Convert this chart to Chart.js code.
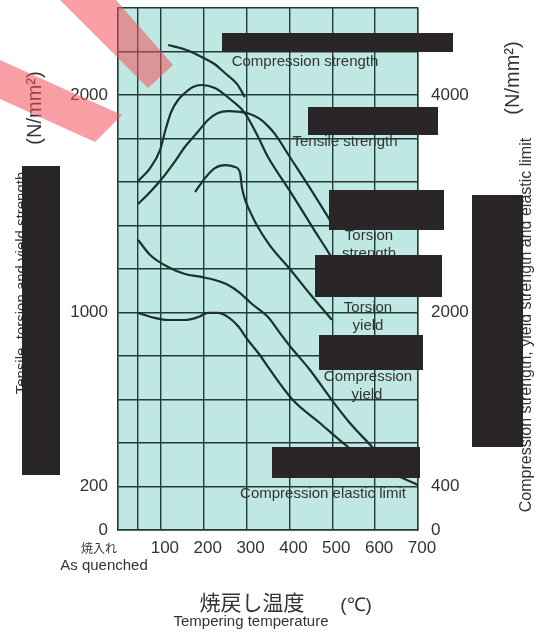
<!DOCTYPE html>
<html>
<head>
<meta charset="utf-8">
<script src="https://cdn.jsdelivr.net/npm/chart.js@4.4.1/dist/chart.umd.min.js"></script>
<style>
html, body { margin: 0; padding: 0; background: #fff; }
</style>
</head>
<body>
<canvas id="temperChart" width="538" height="632"></canvas>
<script>
// x grid: 0 = left edge, 47 = "as quenched" line
const xGrid = [0, 47, 100, 200, 300, 400, 500, 600, 700];
const xTickLabels = [100, 200, 300, 400, 500, 600, 700];
const leftTickLabels = [0, 200, 1000, 2000];
const rightTickLabels = [0, 400, 2000, 4000];

// left axis series (N/mm2)
const tensileT = [47, 75, 100, 135, 156, 184, 210, 233, 257, 285, 308, 331, 350, 366, 401, 448, 499, 506];
const tensileV = [1499, 1554, 1609, 1701, 1761, 1825, 1885, 1917, 1926, 1922, 1913, 1890, 1857, 1821, 1715, 1572, 1411, 1389];
const torsionStrT = [47, 75, 98, 112, 124, 140, 156, 175, 194, 226, 264, 296, 327, 350, 401, 455, 495, 513];
const torsionStrV = [1605, 1664, 1747, 1848, 1922, 1977, 2009, 2037, 2046, 2032, 1977, 1917, 1807, 1715, 1559, 1388, 1264, 1205];
const torsionYieldT = [180, 203, 226, 250, 273, 285, 289, 310, 350, 401, 448, 499];
const torsionYieldV = [1554, 1618, 1664, 1678, 1669, 1641, 1577, 1457, 1320, 1200, 1085, 966];

// right axis series (N/mm2)
const compStrT = [117, 155, 195, 225, 250, 278, 296];
const compStrV = [4460, 4420, 4350, 4285, 4200, 4100, 3980];
const compYieldT = [47, 75, 117, 156, 194, 226, 257, 285, 310, 350, 378, 401, 448, 499, 541, 593, 623];
const compYieldV = [2667, 2529, 2418, 2354, 2327, 2299, 2253, 2179, 2087, 1958, 1811, 1692, 1471, 1195, 984, 763, 625];
const compElasticT = [47, 86, 117, 156, 187, 210, 233, 257, 280, 303, 331, 350, 408, 471, 537, 611, 674, 700];
const compElasticV = [1996, 1950, 1931, 1931, 1958, 1996, 1996, 1958, 1876, 1747, 1609, 1499, 1195, 984, 763, 570, 460, 414];

const gridColor = '#1f3b3b';
const lineColor = '#1c3030';
const textColor = '#333';

function pts(t, v) {
    return t.map((x, i) => ({ x: x, y: v[i] }));
}

function curve(label, t, v, axis) {
    return {
        label: label,
        data: pts(t, v),
        yAxisID: axis,
        borderColor: lineColor,
        borderWidth: 2.2,
        pointRadius: 0,
        fill: false,
        cubicInterpolationMode: 'monotone'
    };
}

function text(ctx, str, x, y, font, rot) {
    ctx.save();
    ctx.translate(x, y);
    if (rot) ctx.rotate(rot);
    ctx.font = font;
    ctx.fillStyle = textColor;
    ctx.textAlign = 'center';
    ctx.textBaseline = 'middle';
    ctx.fillText(str, 0, 0);
    ctx.restore();
}

const paperPlugin = {
    id: 'paper',
    beforeDraw(chart) {
        const a = chart.chartArea;
        const ctx = chart.ctx;
        ctx.save();
        ctx.fillStyle = '#c0e8e2';
        ctx.fillRect(a.left, a.top, a.right - a.left, a.bottom - a.top);
        ctx.restore();
    },
    afterDatasetsDraw(chart) {
        const ctx = chart.ctx;
        const f15 = '15px "Liberation Sans", Arial, sans-serif';

        // curve labels
        text(ctx, 'Compression strength', 305, 62, f15);
        text(ctx, 'Tensile strength', 345, 142, f15);
        text(ctx, 'Torsion', 369, 236, f15);
        text(ctx, 'strength', 369, 254, f15);
        text(ctx, 'Torsion', 368, 308, f15);
        text(ctx, 'yield', 368, 326, f15);
        text(ctx, 'Compression', 368, 377, f15);
        text(ctx, 'yield', 367, 395, f15);
        text(ctx, 'Compression elastic limit', 323, 494, f15);

        // axis titles
        const x0 = chart.scales.x.getPixelForValue(0);
        text(ctx, '焼入れ', x0 - 19, 548, '12px "Noto Sans CJK JP", sans-serif');
        text(ctx, 'As quenched', x0 - 14, 566, f15);
        text(ctx, '焼戻し温度', 252, 602, '21px "Noto Sans CJK JP", sans-serif');
        text(ctx, 'Tempering temperature', 251, 622, f15);
        text(ctx, '(℃)', 356, 606, '19px "Liberation Sans", Arial, sans-serif');
        text(ctx, '(N/mm²)', 35, 108, '20px "Liberation Sans", Arial, sans-serif', -Math.PI / 2);
        text(ctx, '(N/mm²)', 513, 78, '20px "Liberation Sans", Arial, sans-serif', -Math.PI / 2);
        text(ctx, 'Tensile, torsion and yield strength', 22, 283, f15, -Math.PI / 2);
        text(ctx, 'Compression strength, yield strength and elastic limit', 527, 325,
            '16px "Liberation Sans", Arial, sans-serif', -Math.PI / 2);

        // blacked-out boxes
        const boxes = [
            [222, 33, 453, 52], [308, 107, 438, 135], [329, 190, 444, 230],
            [315, 255, 442, 297], [319, 335, 423, 370], [272, 447, 420, 478],
            [22, 166, 60, 475], [472, 195, 523, 447]
        ];
        ctx.save();
        ctx.fillStyle = '#2a2627';
        boxes.forEach(b => ctx.fillRect(b[0], b[1], b[2] - b[0], b[3] - b[1]));
        ctx.restore();
    },
    afterDraw(chart) {
        // pink stripes over the top-left corner
        const ctx = chart.ctx;
        ctx.save();
        ctx.fillStyle = 'rgba(240, 80, 90, 0.55)';
        ctx.beginPath();
        ctx.moveTo(60, 0); ctx.lineTo(116, 0); ctx.lineTo(173, 65); ctx.lineTo(148, 88);
        ctx.closePath();
        ctx.fill();
        ctx.beginPath();
        ctx.moveTo(0, 60); ctx.lineTo(122, 115); ctx.lineTo(95, 142); ctx.lineTo(0, 99);
        ctx.closePath();
        ctx.fill();
        ctx.restore();
    }
};

new Chart(document.getElementById('temperChart'), {
    type: 'line',
    data: {
        datasets: [
            curve('Compression strength', compStrT, compStrV, 'yR'),
            curve('Tensile strength', tensileT, tensileV, 'y'),
            curve('Torsion strength', torsionStrT, torsionStrV, 'y'),
            curve('Torsion yield', torsionYieldT, torsionYieldV, 'y'),
            curve('Compression yield', compYieldT, compYieldV, 'yR'),
            curve('Compression elastic limit', compElasticT, compElasticV, 'yR')
        ]
    },
    options: {
        responsive: false,
        animation: false,
        devicePixelRatio: 1,
        layout: { padding: { left: 58, right: 60, top: 8, bottom: 52 } },
        plugins: {
            legend: { display: false },
            tooltip: { enabled: false }
        },
        scales: {
            x: {
                type: 'linear',
                min: 0,
                max: 700,
                afterBuildTicks: s => { s.ticks = xGrid.map(v => ({ value: v })); },
                afterFit: s => { s.height = 50; s.paddingLeft = 0; s.paddingRight = 0; },
                grid: { color: gridColor, lineWidth: 1.4, drawTicks: false },
                border: { color: gridColor, width: 1.4 },
                ticks: {
                    padding: 8,
                    labelOffset: 4,
                    maxRotation: 0,
                    autoSkip: false,
                    color: textColor,
                    font: { family: '"Liberation Sans", Arial, sans-serif', size: 17 },
                    callback: v => xTickLabels.includes(v) ? String(v) : ''
                }
            },
            y: {
                position: 'left',
                min: 0,
                max: 2400,
                afterFit: s => { s.width = 60; s.paddingTop = 0; s.paddingBottom = 0; },
                grid: { color: gridColor, lineWidth: 1.4, drawTicks: false },
                border: { color: gridColor, width: 1.4 },
                ticks: {
                    stepSize: 200,
                    padding: 10,
                    autoSkip: false,
                    color: textColor,
                    font: { family: '"Liberation Sans", Arial, sans-serif', size: 17 },
                    callback: v => leftTickLabels.includes(v) ? String(v) : ''
                }
            },
            yR: {
                position: 'right',
                min: 0,
                max: 4800,
                afterFit: s => { s.width = 60; s.paddingTop = 0; s.paddingBottom = 0; },
                grid: { display: false, drawTicks: false },
                border: { color: gridColor, width: 1.4 },
                ticks: {
                    stepSize: 400,
                    padding: 13,
                    autoSkip: false,
                    color: textColor,
                    font: { family: '"Liberation Sans", Arial, sans-serif', size: 17 },
                    callback: v => rightTickLabels.includes(v) ? String(v) : ''
                }
            }
        }
    },
    plugins: [paperPlugin]
});
</script>
</body>
</html>
